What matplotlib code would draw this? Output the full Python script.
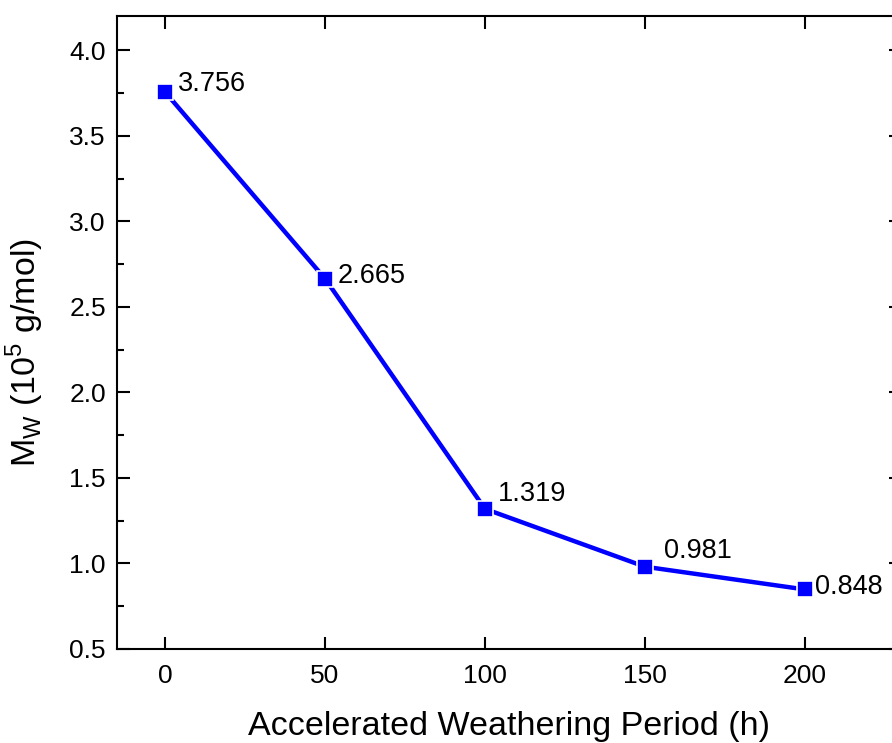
import numpy as np
import matplotlib.pyplot as plt
from matplotlib.ticker import MultipleLocator

plt.rcParams['font.family'] = ['Liberation Sans', 'DejaVu Sans']
plt.rcParams['mathtext.fontset'] = 'custom'
plt.rcParams['mathtext.rm'] = 'Liberation Sans'

# ==============<<< data >>>==============
hours = [0, 50, 100, 150, 200]
mw = [3.756, 2.665, 1.319, 0.981, 0.848]
mw_labels = ['3.756', '2.665', '1.319', '0.981', '0.848']

# label offsets in points (right, up)
label_offsets = [(9, 6), (9, 2), (9, 11), (14, 11), (7, 2)]

fig = plt.figure(figsize=(8.92, 7.43), dpi=100)
ax = fig.add_axes([117 / 892, 94 / 743, 784 / 892, 633 / 743])

ax.plot(hours, mw, color='#0000ff', lw=3.2, marker='s', ms=11,
        mfc='#0000ff', mec='white', mew=1.2, clip_on=False)

for x, y, txt, off in zip(hours, mw, mw_labels, label_offsets):
    ax.annotate(txt, (x, y), xytext=off, textcoords='offset points',
                ha='left', va='center', fontsize=19.5)

ax.set_xlim(-15, 230)
ax.set_ylim(0.5, 4.2)
ax.xaxis.set_major_locator(MultipleLocator(50))
ax.yaxis.set_major_locator(MultipleLocator(0.5))
ax.yaxis.set_minor_locator(MultipleLocator(0.25))
ax.yaxis.set_major_formatter(plt.FormatStrFormatter('%.1f'))

ax.tick_params(which='both', direction='in', top=True, right=True,
               labelsize=19, width=1.5, pad=8)
ax.tick_params(axis='x', pad=11)
ax.tick_params(which='major', length=9)
ax.tick_params(which='minor', length=5)
for s in ax.spines.values():
    s.set_linewidth(1.5)

ax.set_xlabel('Accelerated Weathering Period (h)', fontsize=24.5, labelpad=16)
ax.set_ylabel(r'M$_\mathregular{W}$ (10$^\mathregular{5}$ g/mol)', fontsize=24.5, labelpad=17)
ax.yaxis.label.set_y(0.468)

fig.savefig('out.png', dpi=100)
